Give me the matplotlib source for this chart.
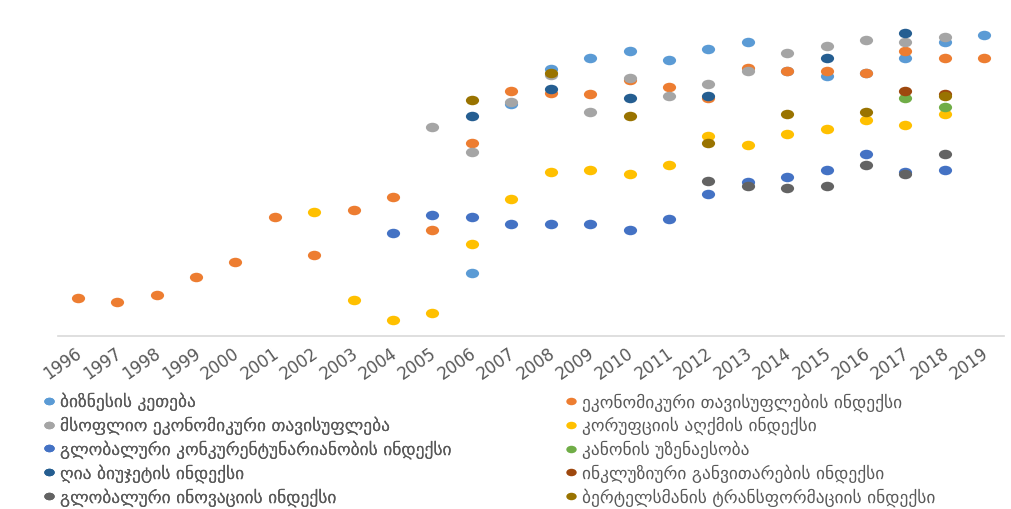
import numpy as np
import matplotlib
matplotlib.use("Agg")
import matplotlib.pyplot as plt
from matplotlib.path import Path
from matplotlib.transforms import Affine2D, ScaledTranslation
from matplotlib.lines import Line2D

plt.rcParams['font.family'] = ['DejaVu Sans']

years = [1996, 1997, 1998, 1999, 2000, 2001, 2002, 2003, 2004, 2005, 2006, 2007,
         2008, 2009, 2010, 2011, 2012, 2013, 2014, 2015, 2016, 2017, 2018, 2019]

# each index: years it was published + relative score (no y axis in the original)
db_years = [2006, 2007, 2008, 2009, 2010, 2011, 2012, 2013, 2014, 2015, 2016, 2017, 2018, 2019]
db_vals = [21.0, 77.3, 89.0, 92.7, 95.0, 92.0, 95.7, 98.0, 88.3, 86.7, 87.7, 92.7, 98.0, 100.3]

efi_years = years
efi_vals = [12.7, 11.3, 13.7, 19.7, 24.7, 39.7, 27.0, 42.0, 46.3, 35.3, 64.3, 81.7,
            81.0, 80.7, 85.3, 83.0, 79.3, 89.3, 88.3, 88.3, 87.7, 95.0, 92.7, 92.7]

wef_years = [2005, 2006, 2007, 2008, 2009, 2010, 2011, 2012, 2013, 2014, 2015, 2016, 2017, 2018]
wef_vals = [69.7, 61.3, 78.0, 87.0, 74.7, 86.0, 80.0, 84.0, 88.3, 94.3, 96.7, 98.7, 98.0, 99.7]

cpi_years = [2002, 2003, 2004, 2005, 2006, 2007, 2008, 2009, 2010, 2011, 2012, 2013,
             2014, 2015, 2016, 2017, 2018]
cpi_vals = [41.3, 12.0, 5.3, 7.7, 30.7, 45.7, 54.7, 55.3, 54.0, 57.0, 66.7, 63.7,
            67.3, 69.0, 72.0, 70.3, 74.0]

gci_years = [2004, 2005, 2006, 2007, 2008, 2009, 2010, 2011, 2012, 2013, 2014, 2015,
             2016, 2017, 2018]
gci_vals = [34.3, 40.3, 39.7, 37.3, 37.3, 37.3, 35.3, 39.0, 47.3, 51.3, 53.0, 55.3,
            60.7, 54.7, 55.3]

rol_years = [2017, 2018]
rol_vals = [79.3, 76.3]

obi_years = [2006, 2008, 2010, 2012, 2015, 2017]
obi_vals = [73.3, 82.3, 79.3, 80.0, 92.7, 101.0]

idi_years = [2017, 2018]
idi_vals = [81.7, 80.7]

gii_years = [2012, 2013, 2014, 2015, 2016, 2017, 2018]
gii_vals = [51.7, 50.0, 49.3, 50.0, 57.0, 54.0, 60.7]

bti_years = [2006, 2008, 2010, 2012, 2014, 2016, 2018]
bti_vals = [78.7, 87.7, 73.3, 64.3, 74.0, 74.7, 80.0]

labels = [
    'ბიზნესის კეთება',
    'ეკონომიკური თავისუფლების ინდექსი',
    'მსოფლიო ეკონომიკური თავისუფლება',
    'კორუფციის აღქმის ინდექსი',
    'გლობალური კონკურენტუნარიანობის ინდექსი',
    'კანონის უზენაესობა',
    'ღია ბიუჯეტის ინდექსი',
    'ინკლუზიური განვითარების ინდექსი',
    'გლობალური ინოვაციის ინდექსი',
    'ბერტელსმანის ტრანსფორმაციის ინდექსი',
]
colors = ['#5B9BD5', '#ED7D31', '#A5A5A5', '#FFC000', '#4472C4',
          '#70AD47', '#255E91', '#9E480E', '#636363', '#997300']

series = [(db_years, db_vals), (efi_years, efi_vals), (wef_years, wef_vals),
          (cpi_years, cpi_vals), (gci_years, gci_vals), (rol_years, rol_vals),
          (obi_years, obi_vals), (idi_years, idi_vals), (gii_years, gii_vals),
          (bti_years, bti_vals)]

# slightly flattened dots like the original
circ = Path.unit_circle()
ellipse = Path(Affine2D().scale(1.0, 0.72).transform(circ.vertices), circ.codes)

fig = plt.figure(figsize=(10.11, 5.09), dpi=100)
ax = fig.add_axes([0.0574, 0.3399, 0.9357, 0.6189])

handles = []
for (xs, ys), lab, c in zip(series, labels, colors):
    h, = ax.plot(xs, ys, linestyle='none', marker=ellipse, markersize=9.5,
                 markerfacecolor=c, markeredgewidth=0, label=lab)
    handles.append(h)

ax.set_xlim(years[0] - 0.5, years[-1] + 0.5)
ax.set_ylim(0, 105)
ax.set_xticks(years)
ax.set_xticklabels([str(y) for y in years])
ax.set_yticks([])
for s in ['top', 'right', 'left']:
    ax.spines[s].set_visible(False)
ax.spines['bottom'].set_color('#D9D9D9')
ax.spines['bottom'].set_linewidth(1.2)
ax.tick_params(axis='x', length=0, pad=6, labelsize=12, labelcolor='#595959')
shift = ScaledTranslation(-2 / 72, 0, fig.dpi_scale_trans)
for t in ax.get_xticklabels():
    t.set_rotation(35)
    t.set_ha('right')
    t.set_va('top')
    t.set_rotation_mode('anchor')
    t.set_transform(t.get_transform() + shift)

def legend_handle(h):
    return Line2D([], [], linestyle='none', marker=ellipse, markersize=7.5,
                  markerfacecolor=h.get_markerfacecolor(), markeredgewidth=0)

leg_kw = dict(loc='upper left', frameon=False, fontsize=12.5, labelcolor='#595959',
              handlelength=0.55, handletextpad=0.35, borderpad=0, borderaxespad=0,
              labelspacing=0.3)
left = [0, 2, 4, 6, 8]
right = [1, 3, 5, 7, 9]
leg1 = fig.legend([legend_handle(handles[i]) for i in left], [labels[i] for i in left],
                  bbox_to_anchor=(44 / 1011, 1 - 393 / 509), **leg_kw)
fig.add_artist(leg1)
fig.legend([legend_handle(handles[i]) for i in right], [labels[i] for i in right],
           bbox_to_anchor=(566 / 1011, 1 - 393 / 509), **leg_kw)

fig.savefig('out.png', dpi=100)
